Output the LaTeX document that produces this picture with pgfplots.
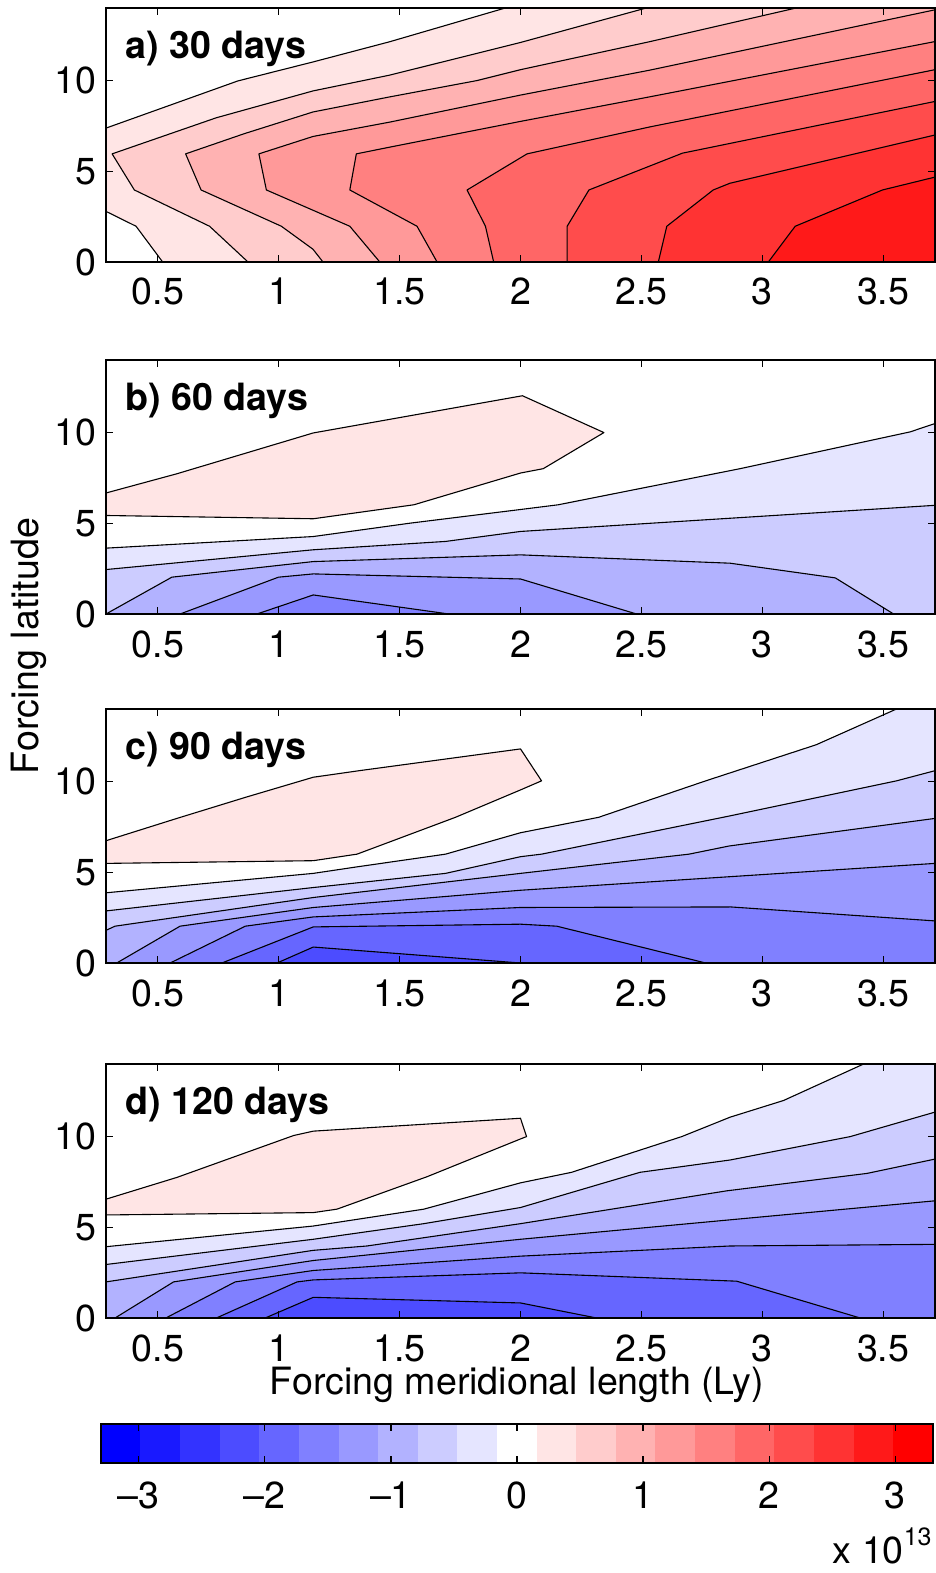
\documentclass[border=0pt]{standalone}
\usepackage{pgfplots}
\pgfplotsset{compat=1.18}
\usepackage{fontspec}
\setmainfont{TeX Gyre Heros}
\definecolor{r1}{rgb}{1,0.9,0.9}
\definecolor{r2}{rgb}{1,0.8,0.8}
\definecolor{r3}{rgb}{1,0.7,0.7}
\definecolor{r4}{rgb}{1,0.6,0.6}
\definecolor{r5}{rgb}{1,0.5,0.5}
\definecolor{r6}{rgb}{1,0.4,0.4}
\definecolor{r7}{rgb}{1,0.3,0.3}
\definecolor{r8}{rgb}{1,0.2,0.2}
\definecolor{r9}{rgb}{1,0.1,0.1}
\definecolor{r10}{rgb}{1,0,0}
\definecolor{b1}{rgb}{0.9,0.9,1}
\definecolor{b2}{rgb}{0.8,0.8,1}
\definecolor{b3}{rgb}{0.7,0.7,1}
\definecolor{b4}{rgb}{0.6,0.6,1}
\definecolor{b5}{rgb}{0.5,0.5,1}
\definecolor{b6}{rgb}{0.4,0.4,1}
\definecolor{b7}{rgb}{0.3,0.3,1}
\definecolor{b8}{rgb}{0.2,0.2,1}
\definecolor{b9}{rgb}{0.1,0.1,1}
\definecolor{b10}{rgb}{0,0,1}
\pgfplotsset{
  common/.style={
    scale only axis, anchor=north west,
    tick align=inside, xtick pos=both,
    major tick length=3.5pt,
    axis line style={line width=0.85pt},
    every tick/.append style={black, line width=0.6pt},
    tick label style={font=\fontsize{18.8}{18.8}\selectfont, inner sep=0pt},
    /pgf/number format/assume math mode=true,
    axis on top,
  },
  panel/.style={
    common, width=414.5pt, height=127pt,
    xmin=0.2857, xmax=3.7143, ymin=0, ymax=14,
    xtick={0.5,1,1.5,2,2.5,3,3.5}, ytick={0,5,10},
    ytick pos=both,
    xticklabel style={anchor=base, yshift=-21.5pt},
    yticklabel style={anchor=east, xshift=-4.5pt},
  },
}
\tikzset{
  cf/.style={draw=black, line width=0.55pt, line join=round},
  ttl/.style={anchor=base west, inner sep=0pt, font=\fontsize{18.8}{18.8}\selectfont\bfseries},
}
\begin{document}
\begin{tikzpicture}
\path[use as bounding box] (0,0) rectangle (468pt,-786.5pt);

% ---------------- a) 30 days
\begin{axis}[panel, at={(53pt,-4pt)}]
\addplot[cf, fill=r1] coordinates {(0.2857,2.79) (0.41,1.97) (0.52,0) (3.7143,0) (3.7143,14) (1.937,14) (1.459,12.14) (1.143,11.03) (0.831,9.98) (0.2857,7.38)} -- cycle;
\addplot[cf, fill=r2] coordinates {(0.873,0) (0.714,1.97) (0.403,3.97) (0.311,5.96) (0.742,7.95) (1.142,9.43) (1.459,10.30) (2.0,12.1) (2.52,14) (3.7143,14) (3.7143,0)} -- cycle;
\addplot[cf, fill=r3] coordinates {(1.183,0) (1.142,0.70) (1.011,1.97) (0.679,3.97) (0.615,5.96) (0.857,7.07) (1.142,8.27) (1.459,9.10) (1.82,10) (2.0,10.6) (2.533,12.14) (3.14,14) (3.7143,14) (3.7143,0)} -- cycle;
\addplot[cf, fill=r4] coordinates {(1.418,0) (1.294,1.97) (0.949,3.97) (0.918,5.96) (1.142,6.92) (1.459,7.71) (2.0,9.2) (2.533,10.57) (3.7143,13.9) (3.7143,0)} -- cycle;
\addplot[cf, fill=r5] coordinates {(1.655,0) (1.572,1.97) (1.294,3.97) (1.321,5.96) (1.459,6.33) (2.0,7.75) (2.533,9.10) (3.7143,12.15) (3.7143,0)} -- cycle;
\addplot[cf, fill=r6] coordinates {(1.889,0) (1.855,1.97) (1.779,3.97) (2.027,5.96) (2.533,7.44) (3.7143,10.6) (3.7143,0)} -- cycle;
\addplot[cf, fill=r7] coordinates {(2.193,0) (2.193,1.97) (2.283,3.97) (2.67,6.0) (3.7143,8.85) (3.7143,0)} -- cycle;
\addplot[cf, fill=r8] coordinates {(2.57,0) (2.605,1.97) (2.797,3.97) (2.866,4.34) (3.7143,7.0) (3.7143,0)} -- cycle;
\addplot[cf, fill=r9] coordinates {(3.025,0) (3.136,1.97) (3.497,3.97) (3.7143,4.68) (3.7143,0)} -- cycle;
\node[ttl] at (rel axis cs:0.0229,0.80) {a) 30 days};
\end{axis}

% ---------------- b) 60 days
\begin{axis}[panel, at={(53pt,-180pt)}]
\addplot[cf, fill=r1] coordinates {(0.2857,5.43) (1.143,5.25) (1.559,6.02) (2.0,7.77) (2.094,8.01) (2.345,10.0) (2.008,12.03) (1.143,9.98) (0.579,7.73) (0.2857,6.67)} -- cycle;
\addplot[cf, fill=b1] coordinates {(0.2857,3.63) (1.143,4.27) (1.545,5.01) (2.0,5.76) (2.156,6.02) (2.908,8.01) (3.612,10.04) (3.7143,10.5) (3.7143,0) (0.2857,0)} -- cycle;
\addplot[cf, fill=b2] coordinates {(0.2857,2.45) (1.143,3.54) (1.69,4.0) (2.0,4.55) (3.7143,5.99) (3.7143,0) (0.2857,0)} -- cycle;
\addplot[cf, fill=b3] coordinates {(0.2857,0) (0.558,2.03) (1.143,2.89) (2.0,3.26) (2.867,2.8) (3.302,1.99) (3.543,0)} -- cycle;
\addplot[cf, fill=b4] coordinates {(0.592,0) (0.999,2.03) (1.143,2.21) (2.0,1.93) (2.48,0)} -- cycle;
\addplot[cf, fill=b5] coordinates {(0.91,0) (1.143,1.05) (1.704,0)} -- cycle;
\node[ttl] at (rel axis cs:0.0229,0.80) {b) 60 days};
\end{axis}

% ---------------- c) 90 days
\begin{axis}[panel, at={(53pt,-354.5pt)}]
\addplot[cf, fill=r1] coordinates {(0.2857,5.49) (1.143,5.64) (1.324,6.0) (1.731,8.03) (2.0,9.54) (2.087,10.04) (2.0,11.8) (1.338,10.61) (1.143,10.24) (0.862,9.13) (0.579,7.97) (0.2857,6.74)} -- cycle;
\addplot[cf, fill=b1] coordinates {(0.2857,3.87) (1.143,4.94) (1.324,5.30) (1.69,6.0) (2.0,7.18) (2.323,8.03) (2.766,10.04) (3.223,12.03) (3.555,14) (3.7143,14) (3.7143,0) (0.2857,0)} -- cycle;
\addplot[cf, fill=b2] coordinates {(0.2857,2.87) (1.143,4.16) (1.69,4.94) (2.0,5.86) (2.087,6.0) (2.863,8.1) (3.555,10.04) (3.7143,10.6) (3.7143,0) (0.2857,0)} -- cycle;
\addplot[cf, fill=b3] coordinates {(0.2857,1.80) (0.323,2.03) (1.143,3.61) (2.0,4.94) (2.697,6.0) (2.863,6.45) (3.7143,7.97) (3.7143,0) (0.2857,0)} -- cycle;
\addplot[cf, fill=b4] coordinates {(0.33,0) (0.592,2.03) (1.143,3.06) (2.0,4.01) (3.7143,5.49) (3.7143,0)} -- cycle;
\addplot[cf, fill=b5] coordinates {(0.551,0) (0.862,2.03) (1.143,2.54) (2.0,3.06) (2.87,3.09) (3.7143,2.32) (3.7143,0)} -- cycle;
\addplot[cf, fill=b6] coordinates {(0.765,0) (1.143,1.99) (2.0,2.14) (2.15,2.03) (2.766,0)} -- cycle;
\addplot[cf, fill=b7] coordinates {(0.993,0) (1.143,0.88) (2.0,0)} -- cycle;
\node[ttl] at (rel axis cs:0.0229,0.80) {c) 90 days};
\end{axis}

% ---------------- d) 120 days
\begin{axis}[panel, at={(53pt,-532pt)}]
\addplot[cf, fill=r1] coordinates {(0.2857,5.68) (1.143,5.81) (1.241,6.0) (1.614,7.79) (2.0,9.87) (2.025,10.0) (2.0,11.01) (1.143,10.30) (1.062,10.06) (0.579,7.75) (0.2857,6.55)} -- cycle;
\addplot[cf, fill=b1] coordinates {(0.2857,3.93) (1.143,5.07) (1.6,6.0) (2.0,7.45) (2.211,8.03) (2.667,10.0) (2.867,11.07) (3.088,11.99) (3.419,14) (3.7143,14) (3.7143,0) (0.2857,0)} -- cycle;
\addplot[cf, fill=b2] coordinates {(0.2857,2.95) (1.143,4.34) (1.6,5.2) (2.0,6.09) (2.494,8.03) (2.867,8.71) (3.364,10.0) (3.7143,11.35) (3.7143,0) (0.2857,0)} -- cycle;
\addplot[cf, fill=b3] coordinates {(0.2857,1.99) (1.143,3.73) (1.365,3.97) (2.0,5.2) (2.853,7.01) (3.433,7.97) (3.7143,8.76) (3.7143,0) (0.2857,0)} -- cycle;
\addplot[cf, fill=b4] coordinates {(0.323,0) (0.565,1.99) (1.143,3.17) (2.0,4.34) (3.7143,6.46) (3.7143,0)} -- cycle;
\addplot[cf, fill=b5] coordinates {(0.533,0) (0.82,1.99) (1.143,2.62) (2.0,3.41) (2.867,3.97) (3.7143,4.06) (3.7143,0)} -- cycle;
\addplot[cf, fill=b6] coordinates {(0.742,0) (1.076,1.99) (1.143,2.10) (2.0,2.49) (2.894,2.03) (3.405,0)} -- cycle;
\addplot[cf, fill=b7] coordinates {(0.944,0) (1.143,1.14) (2.0,0.83) (2.315,0)} -- cycle;
\node[ttl] at (rel axis cs:0.0229,0.80) {d) 120 days};
\end{axis}

% ---------------- colorbar
\begin{axis}[common, at={(50.5pt,-712pt)}, width=416pt, height=19.5pt,
  xmin=-3.3, xmax=3.3, ymin=0, ymax=1, ytick=\empty,
  xtick={-3,-2,-1,0,1,2,3}, xticklabels={–3,–2,–1,0,1,2,3},
  xticklabel style={anchor=base, yshift=-22.5pt}]
\addplot[fill=b10, draw=b10, line width=0.2pt] coordinates {(-3.3,0) (-2.9857,0) (-2.9857,1) (-3.3,1)} -- cycle;
\addplot[fill=b9, draw=b9, line width=0.2pt] coordinates {(-2.9857,0) (-2.6714,0) (-2.6714,1) (-2.9857,1)} -- cycle;
\addplot[fill=b8, draw=b8, line width=0.2pt] coordinates {(-2.6714,0) (-2.3571,0) (-2.3571,1) (-2.6714,1)} -- cycle;
\addplot[fill=b7, draw=b7, line width=0.2pt] coordinates {(-2.3571,0) (-2.0429,0) (-2.0429,1) (-2.3571,1)} -- cycle;
\addplot[fill=b6, draw=b6, line width=0.2pt] coordinates {(-2.0429,0) (-1.7286,0) (-1.7286,1) (-2.0429,1)} -- cycle;
\addplot[fill=b5, draw=b5, line width=0.2pt] coordinates {(-1.7286,0) (-1.4143,0) (-1.4143,1) (-1.7286,1)} -- cycle;
\addplot[fill=b4, draw=b4, line width=0.2pt] coordinates {(-1.4143,0) (-1.1,0) (-1.1,1) (-1.4143,1)} -- cycle;
\addplot[fill=b3, draw=b3, line width=0.2pt] coordinates {(-1.1,0) (-0.7857,0) (-0.7857,1) (-1.1,1)} -- cycle;
\addplot[fill=b2, draw=b2, line width=0.2pt] coordinates {(-0.7857,0) (-0.4714,0) (-0.4714,1) (-0.7857,1)} -- cycle;
\addplot[fill=b1, draw=b1, line width=0.2pt] coordinates {(-0.4714,0) (-0.1571,0) (-0.1571,1) (-0.4714,1)} -- cycle;
\addplot[fill=white, draw=white, line width=0.2pt] coordinates {(-0.1571,0) (0.1571,0) (0.1571,1) (-0.1571,1)} -- cycle;
\addplot[fill=r1, draw=r1, line width=0.2pt] coordinates {(0.1571,0) (0.4714,0) (0.4714,1) (0.1571,1)} -- cycle;
\addplot[fill=r2, draw=r2, line width=0.2pt] coordinates {(0.4714,0) (0.7857,0) (0.7857,1) (0.4714,1)} -- cycle;
\addplot[fill=r3, draw=r3, line width=0.2pt] coordinates {(0.7857,0) (1.1,0) (1.1,1) (0.7857,1)} -- cycle;
\addplot[fill=r4, draw=r4, line width=0.2pt] coordinates {(1.1,0) (1.4143,0) (1.4143,1) (1.1,1)} -- cycle;
\addplot[fill=r5, draw=r5, line width=0.2pt] coordinates {(1.4143,0) (1.7286,0) (1.7286,1) (1.4143,1)} -- cycle;
\addplot[fill=r6, draw=r6, line width=0.2pt] coordinates {(1.7286,0) (2.0429,0) (2.0429,1) (1.7286,1)} -- cycle;
\addplot[fill=r7, draw=r7, line width=0.2pt] coordinates {(2.0429,0) (2.3571,0) (2.3571,1) (2.0429,1)} -- cycle;
\addplot[fill=r8, draw=r8, line width=0.2pt] coordinates {(2.3571,0) (2.6714,0) (2.6714,1) (2.3571,1)} -- cycle;
\addplot[fill=r9, draw=r9, line width=0.2pt] coordinates {(2.6714,0) (2.9857,0) (2.9857,1) (2.6714,1)} -- cycle;
\addplot[fill=r10, draw=r10, line width=0.2pt] coordinates {(2.9857,0) (3.3,0) (3.3,1) (2.9857,1)} -- cycle;
\end{axis}

% ---------------- labels
\node[rotate=90, anchor=base, inner sep=0pt, font=\fontsize{18.8}{18.8}\selectfont] at (19.5pt,-323pt) {Forcing latitude};
\node[anchor=base, inner sep=0pt, font=\fontsize{18.8}{18.8}\selectfont] at (258.5pt,-697pt) {Forcing meridional length (Ly)};
\node[anchor=base east, inner sep=0pt, font=\fontsize{18.8}{18.8}\selectfont] at (466pt,-781.5pt) {x 10\raisebox{9pt}{\fontsize{12.5}{12.5}\selectfont 13}};
\end{tikzpicture}
\end{document}
